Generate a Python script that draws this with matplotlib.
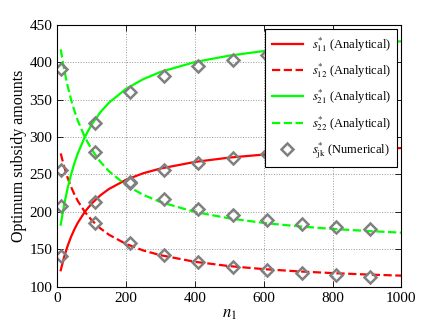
import matplotlib
matplotlib.use("Agg")
import matplotlib.pyplot as plt

plt.rcParams['font.family'] = ['Liberation Serif', 'DejaVu Serif']
plt.rcParams['mathtext.fontset'] = 'stix'

# analytical curves
n_curve = [10, 20, 30, 40, 50, 60, 80, 100, 125, 150, 200, 250, 300, 400, 500, 600, 700, 800, 900, 1000]
s11 = [122.0, 139.8, 154.4, 166.6, 176.9, 185.7, 200.0, 211.1, 222.0, 230.5, 242.9, 251.6, 257.9, 266.7, 272.5, 276.5, 279.5, 281.8, 283.7, 285.2]
s12 = [278.0, 260.2, 245.6, 233.4, 223.1, 214.3, 200.0, 188.9, 178.0, 169.5, 157.1, 148.4, 142.1, 133.3, 127.5, 123.5, 120.5, 118.2, 116.3, 114.8]
s21 = [182.9, 209.7, 231.6, 249.9, 265.3, 278.5, 300.0, 316.7, 333.0, 345.7, 364.4, 377.3, 386.9, 400.1, 408.7, 414.8, 419.3, 422.8, 425.5, 427.8]
s22 = [417.1, 390.3, 368.4, 350.1, 334.7, 321.5, 300.0, 283.3, 267.0, 254.3, 235.6, 222.7, 213.1, 199.9, 191.3, 185.2, 180.7, 177.2, 174.5, 172.2]

# numerical points
n_num = [10, 110, 210, 310, 410, 510, 610, 710, 810, 910]
s11_num = [141.4, 212.7, 240.3, 255.9, 265.3, 272.4, 277.3, 280.0, 282.0, 283.0]
s12_num = [256.3, 185.5, 158.4, 142.4, 132.6, 126.7, 121.9, 118.3, 115.2, 112.9]
s21_num = [208.2, 319.0, 359.7, 381.0, 394.4, 403.3, 409.0, 413.0, 416.0, 418.0]
s22_num = [390.8, 279.5, 238.0, 217.6, 204.2, 195.4, 188.7, 183.8, 179.8, 176.7]

xticks = [0, 200, 400, 600, 800, 1000]
yticks = [100, 150, 200, 250, 300, 350, 400, 450]

fig = plt.figure(figsize=(4.43, 3.33), dpi=100)
ax = fig.add_axes([0.1293, 0.139, 0.7766, 0.7868])

lw = 1.6
ax.plot(n_curve, s11, color=(1, 0, 0), lw=lw, ls='-', label=r'$s^{*}_{11}$ (Analytical)')
ax.plot(n_curve, s12, color=(1, 0, 0), lw=lw, ls='--', label=r'$s^{*}_{12}$ (Analytical)')
ax.plot(n_curve, s21, color=(0, 1, 0), lw=lw, ls='-', label=r'$s^{*}_{21}$ (Analytical)')
ax.plot(n_curve, s22, color=(0, 1, 0), lw=lw, ls='--', label=r'$s^{*}_{22}$ (Analytical)')

mk = dict(marker='D', ms=5.8, mfc='none', mec=(0.5, 0.5, 0.5), mew=1.8, ls='none')
ax.plot(n_num, s11_num, label=r'$s^{*}_{\rm jk}$ (Numerical)', **mk)
ax.plot(n_num, s12_num, **mk)
ax.plot(n_num, s21_num, **mk)
ax.plot(n_num, s22_num, **mk)

ax.set_xlim(0, 1000)
ax.set_ylim(100, 450)
ax.set_xticks(xticks)
ax.set_yticks(yticks)
ax.tick_params(direction='in', top=True, right=True, length=4, labelsize=11, width=0.6)
ax.grid(True, ls=':', color=(0.6, 0.6, 0.6), lw=0.7)
for s in ax.spines.values():
    s.set_linewidth(0.8)
    s.set_color('black')

ax.set_xlabel(r'$n_1$', fontsize=12, labelpad=1)
ax.set_ylabel('Optimum subsidy amounts', fontsize=11.5, labelpad=2)

leg = ax.legend(loc='upper right', fontsize=9, fancybox=False, framealpha=1,
                edgecolor='black', handlelength=2.5, borderaxespad=0.35,
                labelspacing=0.6, handletextpad=0.7, borderpad=0.5)
leg.get_frame().set_linewidth(0.8)

fig.savefig('out.png', dpi=100)
